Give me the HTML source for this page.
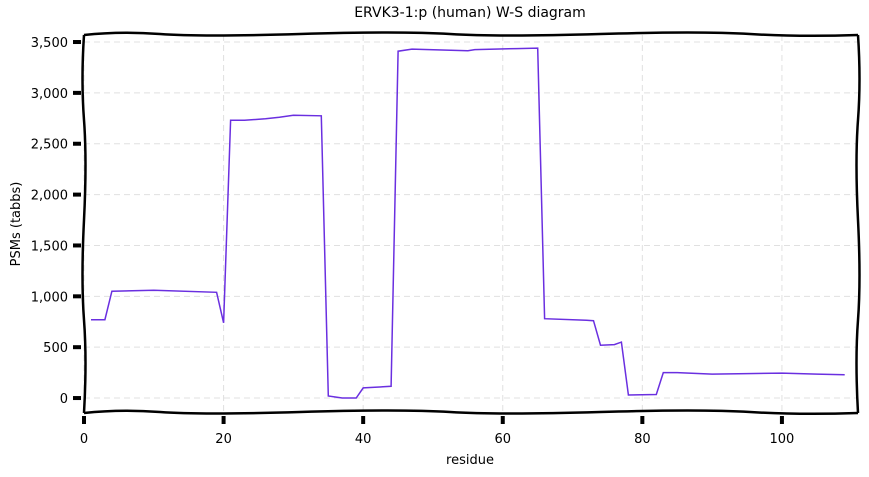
<!DOCTYPE html>
<html><head><meta charset="utf-8"><style>
html,body{margin:0;padding:0;background:#fff;}
svg{display:block;font-family:"DejaVu Sans","Liberation Sans",sans-serif;}
</style></head><body>
<svg id="chart" width="869" height="477">
<rect width="869" height="477" fill="#fff"/>
<text x="470" y="17" text-anchor="middle" font-size="14">ERVK3-1:p (human) W-S diagram</text>
<g id="grid"></g>
<g id="ticks"></g>
<path id="series" fill="none" stroke="#6a2fe0" stroke-width="1.5"/>
<path d="M84,35 Q120,31 160,34 T300,34 T450,34 T600,34 T750,34 T858,35" fill="none" stroke="#000" stroke-width="2.5"/>
<path d="M84,413 Q120,409 160,412 T300,412 T450,412 T600,412 T750,412 T858,413" fill="none" stroke="#000" stroke-width="2.5"/>
<path d="M84,35 Q81,80 84,120 T84,220 T84,320 T84,413" fill="none" stroke="#000" stroke-width="2.5"/>
<path d="M858,35 Q861,80 858,120 T858,220 T858,320 T858,413" fill="none" stroke="#000" stroke-width="2.5"/>
<text x="470" y="464" text-anchor="middle" font-size="13">residue</text>
<text x="20" y="224" text-anchor="middle" font-size="13" transform="rotate(-90 20 224)">PSMs (tabbs)</text>
</svg>
<script>
const residues = [1,3,4,10,19,20,21,23,26,28,30,34,35,37,39,40,44,45,47,55,56,62,65,66,72,73,74,76,77,78,82,83,85,90,95,100,105,109];
const psms = [770,770,1050,1060,1040,740,2730,2730,2745,2760,2780,2775,20,0,0,100,115,3410,3430,3415,3425,3435,3440,780,765,760,520,525,550,30,35,250,250,235,240,245,235,230];
const xTicks = [0,20,40,60,80,100];
const yTicks = [0,500,1000,1500,2000,2500,3000,3500];
const yTickLabels = ["0","500","1,000","1,500","2,000","2,500","3,000","3,500"];

const X0=84, XR=858, YT=35, YB=413;
const xMin=0, xMax=110.9, yMin=-147, yMax=3569;
const sx = v => X0 + (v-xMin)/(xMax-xMin)*(XR-X0);
const sy = v => YB - (v-yMin)/(yMax-yMin)*(YB-YT);
const NS="http://www.w3.org/2000/svg";
const grid=document.getElementById('grid'), ticks=document.getElementById('ticks');

xTicks.forEach(t=>{
  const x=sx(t);
  const g=document.createElementNS(NS,'line');
  
  
  g.setAttribute('x1',x);g.setAttribute('x2',x);g.setAttribute('y1',YT);g.setAttribute('y2',YB);
  g.setAttribute('stroke','#e0e0e0');g.setAttribute('stroke-dasharray','6,4');
  grid.appendChild(g);
  const tk=document.createElementNS(NS,'line');
  
  
  tk.setAttribute('x1',x);tk.setAttribute('x2',x);tk.setAttribute('y1',416);tk.setAttribute('y2',424);
  tk.setAttribute('stroke','#000');tk.setAttribute('stroke-width','4');
  ticks.appendChild(tk);
  const lb=document.createElementNS(NS,'text');
  
  
  lb.setAttribute('x',x);lb.setAttribute('y',443);lb.setAttribute('text-anchor','middle');lb.setAttribute('font-size','13');
  lb.textContent=t;
  ticks.appendChild(lb);
});
yTicks.forEach((t,i)=>{
  const y=sy(t);
  const g=document.createElementNS(NS,'line');
  
  
  g.setAttribute('x1',X0);g.setAttribute('x2',XR);g.setAttribute('y1',y);g.setAttribute('y2',y);
  g.setAttribute('stroke','#e0e0e0');g.setAttribute('stroke-dasharray','6,4');
  grid.appendChild(g);
  const tk=document.createElementNS(NS,'line');
  
  
  tk.setAttribute('x1',73);tk.setAttribute('x2',81);tk.setAttribute('y1',y);tk.setAttribute('y2',y);
  tk.setAttribute('stroke','#000');tk.setAttribute('stroke-width','4');
  ticks.appendChild(tk);
  const lb=document.createElementNS(NS,'text');
  
  
  lb.setAttribute('x',68);lb.setAttribute('y',y+5);lb.setAttribute('text-anchor','end');lb.setAttribute('font-size','13');
  lb.textContent=yTickLabels[i];
  ticks.appendChild(lb);
});
document.getElementById('series').setAttribute('d',
  residues.map((r,i)=>(i?'L':'M')+sx(r).toFixed(1)+','+sy(psms[i]).toFixed(1)).join(' '));
</script>
</body></html>
